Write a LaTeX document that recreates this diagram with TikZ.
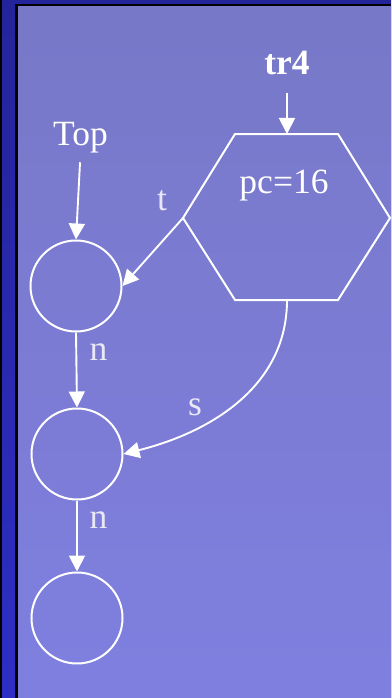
\documentclass[tikz,border=0pt]{standalone}
\usepackage{fontspec}
\setmainfont{Liberation Serif}
\usetikzlibrary{arrows.meta}
\definecolor{bgtop}{HTML}{7878C8}
\definecolor{bgbot}{HTML}{7F7FE0}
\definecolor{striptop}{HTML}{24249A}
\definecolor{stripbot}{HTML}{2E2EC4}
\definecolor{lbl}{HTML}{E8E8F6}
\begin{document}
\begin{tikzpicture}[x=1pt,y=-1pt,
  txt/.style={text=white,font=\fontsize{35.5}{40}\selectfont,anchor=base,inner sep=0pt},
  edgelbl/.style={text=lbl,font=\fontsize{35.5}{40}\selectfont,anchor=base,inner sep=0pt},
  state/.style={circle,draw=white,line width=2pt,minimum size=91pt,inner sep=0pt},
  conn/.style={draw=white,line width=1.9pt,-{Triangle[length=16pt,width=16pt]}},
  hexline/.style={draw=white,line width=2pt,line join=miter}]
\useasboundingbox (0,0) rectangle (391,698);
% frame and background
\shade[top color=striptop,bottom color=stripbot] (0,0) rectangle (391,698);
\fill[black] (0,0) rectangle (1.5,698);
\fill[black] (15,4) rectangle (18,698);
\fill[black] (15,4) rectangle (391,6.5);
\shade[top color=bgtop,bottom color=bgbot] (18,6.5) rectangle (391,698);
% hexagon
\coordinate (hexL) at (183,218);
\coordinate (hexR) at (390,218);
\coordinate (hexTL) at (235,134);
\coordinate (hexTR) at (338,134);
\coordinate (hexBL) at (235,300);
\coordinate (hexBR) at (338,300);
\coordinate (hexT) at (287,134);
\coordinate (hexB) at (287,300);
\draw[hexline] (hexL) -- (hexTL) -- (hexTR) -- (hexR) -- (hexBR) -- (hexBL) -- cycle;
% texts
\node[txt,font=\fontsize{35.5}{40}\selectfont\bfseries] (tr4) at (287,75) {tr4};
\node[txt] (pc) at (284,193) {pc=16};
\node[txt] (top) at (80.5,145.5) {Top};
% states
\node[state] (c1) at (76,286) {};
\node[state] (c2) at (77,454) {};
\node[state] (c3) at (77,618) {};
% connectors
\draw[conn,shorten <=17pt] (tr4.south) -- (hexT);
\draw[conn,shorten <=9pt] (top.south) -- (c1.north);
\draw[conn] (hexL) -- (c1.east);
\draw[conn] (c1.south) -- (c2.north);
\draw[conn] (c2.south) -- (c3.north);
\draw[conn] (hexB) to[out=-90,in=14] (c2.east);
% edge labels
\node[edgelbl] (lt) at (162,210) {t};
\node[edgelbl] (ln1) at (98.5,360) {n};
\node[edgelbl] (ls) at (195,415) {s};
\node[edgelbl] (ln2) at (98.5,528) {n};
\end{tikzpicture}
\end{document}
